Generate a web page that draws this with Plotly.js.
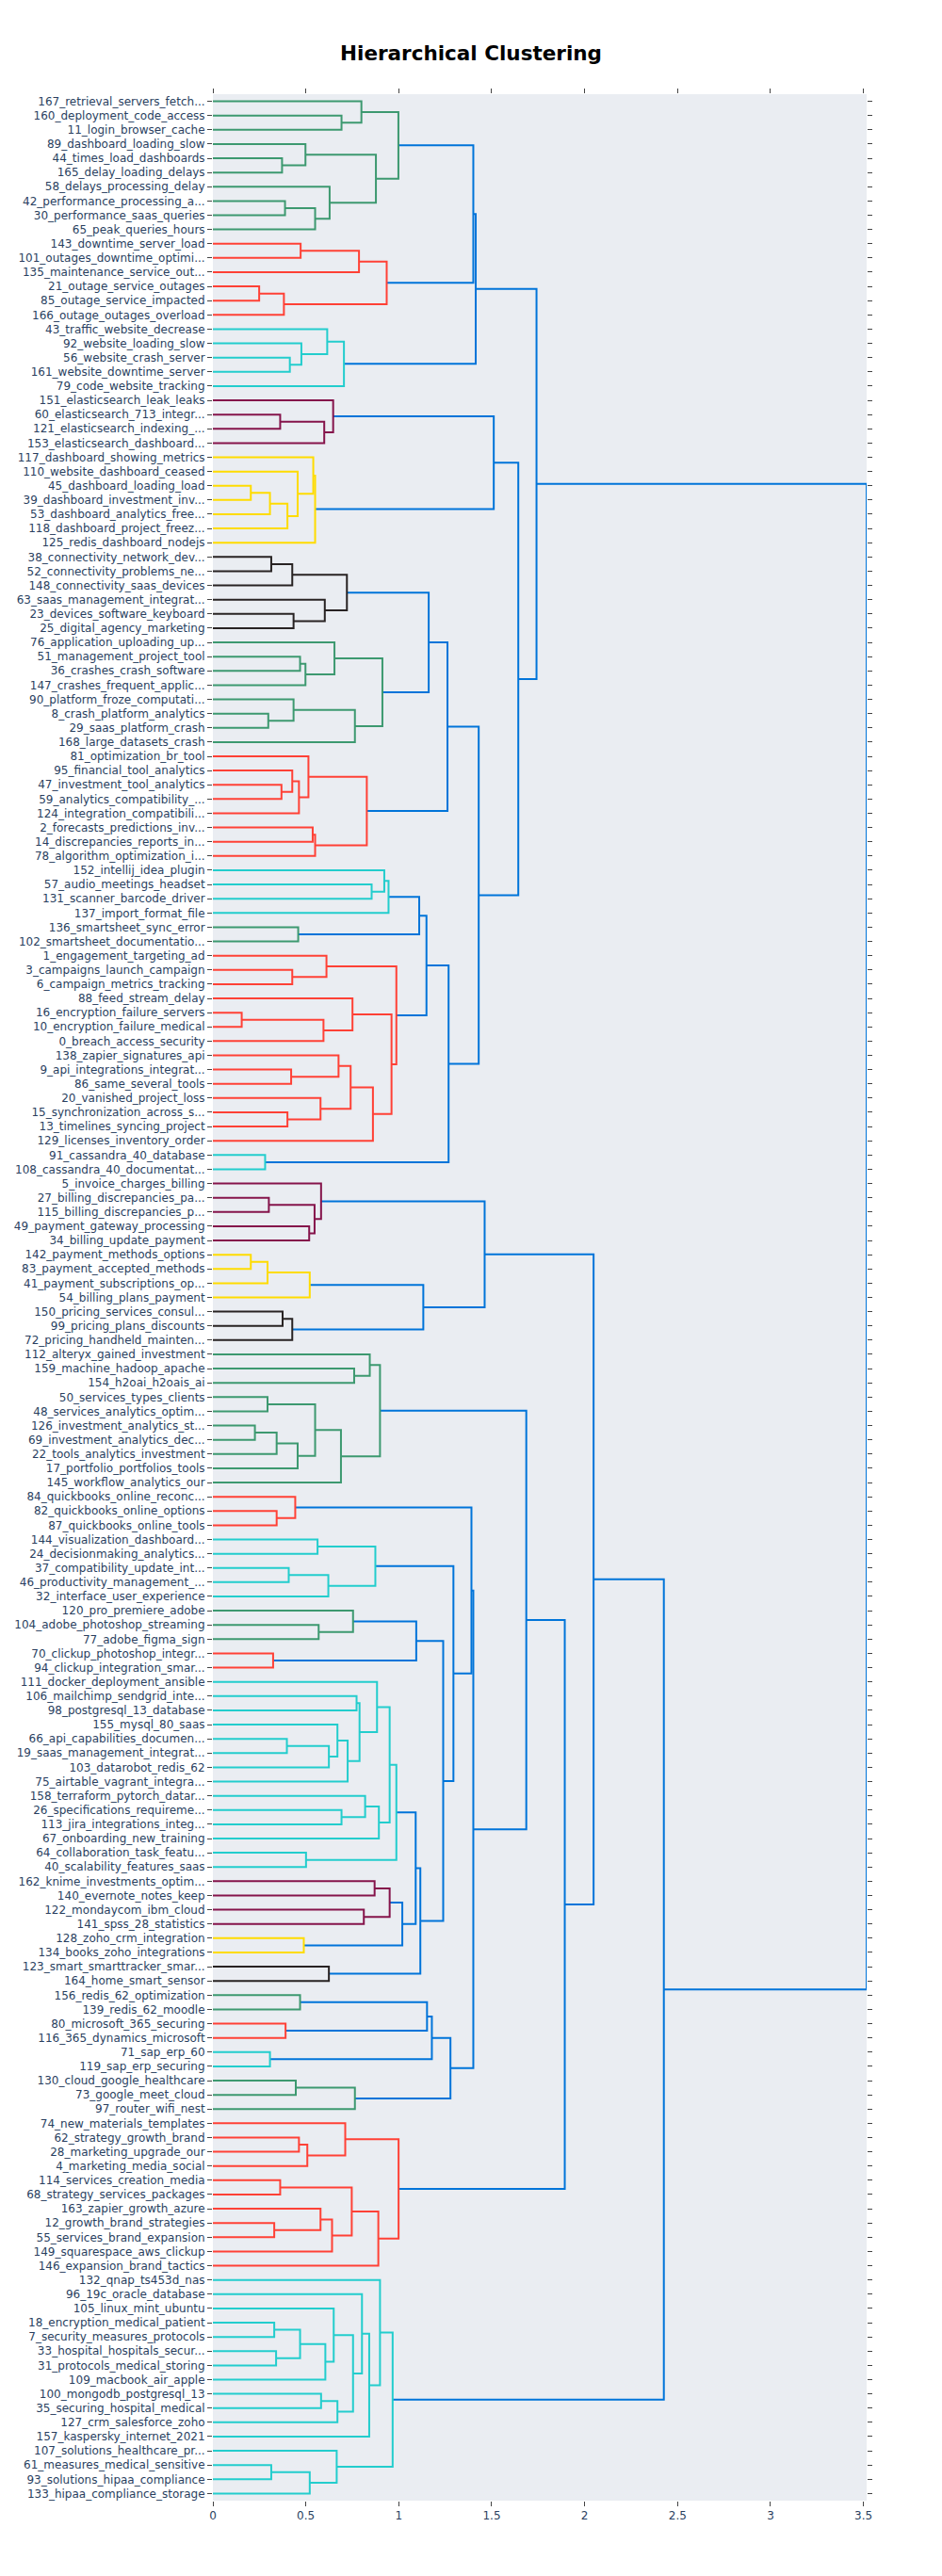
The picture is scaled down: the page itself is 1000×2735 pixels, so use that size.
<!DOCTYPE html>
<html>
<head>
<meta charset="utf-8">
<script src="https://cdn.plot.ly/plotly-3.0.1.min.js"></script>
<style>html,body{margin:0;padding:0;background:#fff}</style>
</head>
<body>
<div id="chart" style="width:1000px;height:2735px"></div>
<script>
// Leaf labels (top to bottom as displayed)
const leafLabels = [
"167_retrieval_servers_fetch...","160_deployment_code_access","11_login_browser_cache","89_dashboard_loading_slow",
"44_times_load_dashboards","165_delay_loading_delays","58_delays_processing_delay","42_performance_processing_a...",
"30_performance_saas_queries","65_peak_queries_hours","143_downtime_server_load","101_outages_downtime_optimi...",
"135_maintenance_service_out...","21_outage_service_outages","85_outage_service_impacted","166_outage_outages_overload",
"43_traffic_website_decrease","92_website_loading_slow","56_website_crash_server","161_website_downtime_server",
"79_code_website_tracking","151_elasticsearch_leak_leaks","60_elasticsearch_713_integr...","121_elasticsearch_indexing_...",
"153_elasticsearch_dashboard...","117_dashboard_showing_metrics","110_website_dashboard_ceased","45_dashboard_loading_load",
"39_dashboard_investment_inv...","53_dashboard_analytics_free...","118_dashboard_project_freez...","125_redis_dashboard_nodejs",
"38_connectivity_network_dev...","52_connectivity_problems_ne...","148_connectivity_saas_devices","63_saas_management_integrat...",
"23_devices_software_keyboard","25_digital_agency_marketing","76_application_uploading_up...","51_management_project_tool",
"36_crashes_crash_software","147_crashes_frequent_applic...","90_platform_froze_computati...","8_crash_platform_analytics",
"29_saas_platform_crash","168_large_datasets_crash","81_optimization_br_tool","95_financial_tool_analytics",
"47_investment_tool_analytics","59_analytics_compatibility_...","124_integration_compatibili...","2_forecasts_predictions_inv...",
"14_discrepancies_reports_in...","78_algorithm_optimization_i...","152_intellij_idea_plugin","57_audio_meetings_headset",
"131_scanner_barcode_driver","137_import_format_file","136_smartsheet_sync_error","102_smartsheet_documentatio...",
"1_engagement_targeting_ad","3_campaigns_launch_campaign","6_campaign_metrics_tracking","88_feed_stream_delay",
"16_encryption_failure_servers","10_encryption_failure_medical","0_breach_access_security","138_zapier_signatures_api",
"9_api_integrations_integrat...","86_same_several_tools","20_vanished_project_loss","15_synchronization_across_s...",
"13_timelines_syncing_project","129_licenses_inventory_order","91_cassandra_40_database","108_cassandra_40_documentat...",
"5_invoice_charges_billing","27_billing_discrepancies_pa...","115_billing_discrepancies_p...","49_payment_gateway_processing",
"34_billing_update_payment","142_payment_methods_options","83_payment_accepted_methods","41_payment_subscriptions_op...",
"54_billing_plans_payment","150_pricing_services_consul...","99_pricing_plans_discounts","72_pricing_handheld_mainten...",
"112_alteryx_gained_investment","159_machine_hadoop_apache","154_h2oai_h2oais_ai","50_services_types_clients",
"48_services_analytics_optim...","126_investment_analytics_st...","69_investment_analytics_dec...","22_tools_analytics_investment",
"17_portfolio_portfolios_tools","145_workflow_analytics_our","84_quickbooks_online_reconc...","82_quickbooks_online_options",
"87_quickbooks_online_tools","144_visualization_dashboard...","24_decisionmaking_analytics...","37_compatibility_update_int...",
"46_productivity_management_...","32_interface_user_experience","120_pro_premiere_adobe","104_adobe_photoshop_streaming",
"77_adobe_figma_sign","70_clickup_photoshop_integr...","94_clickup_integration_smar...","111_docker_deployment_ansible",
"106_mailchimp_sendgrid_inte...","98_postgresql_13_database","155_mysql_80_saas","66_api_capabilities_documen...",
"19_saas_management_integrat...","103_datarobot_redis_62","75_airtable_vagrant_integra...","158_terraform_pytorch_datar...",
"26_specifications_requireme...","113_jira_integrations_integ...","67_onboarding_new_training","64_collaboration_task_featu...",
"40_scalability_features_saas","162_knime_investments_optim...","140_evernote_notes_keep","122_mondaycom_ibm_cloud",
"141_spss_28_statistics","128_zoho_crm_integration","134_books_zoho_integrations","123_smart_smarttracker_smar...",
"164_home_smart_sensor","156_redis_62_optimization","139_redis_62_moodle","80_microsoft_365_securing",
"116_365_dynamics_microsoft","71_sap_erp_60","119_sap_erp_securing","130_cloud_google_healthcare",
"73_google_meet_cloud","97_router_wifi_nest","74_new_materials_templates","62_strategy_growth_brand",
"28_marketing_upgrade_our","4_marketing_media_social","114_services_creation_media","68_strategy_services_packages",
"163_zapier_growth_azure","12_growth_brand_strategies","55_services_brand_expansion","149_squarespace_aws_clickup",
"146_expansion_brand_tactics","132_qnap_ts453d_nas","96_19c_oracle_database","105_linux_mint_ubuntu",
"18_encryption_medical_patient","7_security_measures_protocols","33_hospital_hospitals_secur...","31_protocols_medical_storing",
"109_macbook_air_apple","100_mongodb_postgresql_13","35_securing_hospital_medical","127_crm_salesforce_zoho",
"157_kaspersky_internet_2021","107_solutions_healthcare_pr...","61_measures_medical_sensitive","93_solutions_hipaa_compliance",
"133_hipaa_compliance_storage"
];

// Linkage: [node, upper child, lower child, merge distance]; numbers are leaf ids
const linkageTop = [
['a1',160,11,0.692],['a2',167,'a1',0.799],['a3',44,165,0.372],['a4',89,'a3',0.498],
['a5',42,30,0.388],['a6','a5',65,0.550],['a7',58,'a6',0.628],['a8','a4','a7',0.877],['a9','a2','a8',0.998],
['b1',143,101,0.472],['b2','b1',135,0.786],['b3',21,85,0.249],['b4','b3',166,0.382],['b5','b2','b4',0.935],
['p1','a9','b5',1.401],
['c1',56,161,0.414],['c2',92,'c1',0.476],['c3',43,'c2',0.615],['c4','c3',79,0.705],
['p2','p1','c4',1.414],
['d1',60,121,0.362],['d2','d1',153,0.599],['d3',151,'d2',0.647],
['e1',45,39,0.204],['e2','e1',53,0.307],['e3','e2',118,0.401],['e4',110,'e3',0.456],['e5',117,'e4',0.540],['e6','e5',125,0.550],
['p3','d3','e6',1.511],
['f1',38,52,0.314],['f2','f1',148,0.427],['f3',23,25,0.434],['f4',63,'f3',0.602],['f5','f2','f4',0.721],
['g1',51,36,0.469],['g2','g1',147,0.498],['g3',76,'g2',0.654],['g4',8,29,0.298],['g5',90,'g4',0.434],['g6','g5',168,0.764],['g7','g3','g6',0.912],
['p4','f5','g7',1.161],
['h1',47,59,0.369],['h2',95,'h1',0.427],['h3','h2',124,0.463],['h4',81,'h3',0.514],['h5',2,14,0.537],['h6','h5',78,0.550],['h7','h4','h6',0.828],
['p5','p4','h7',1.262],
['i1',57,131,0.854],['i2',152,'i1',0.922],['i3','i2',137,0.945],
['j1',136,102,0.459],
['p6','i3','j1',1.110],
['k1',3,6,0.427],['k2',1,'k1',0.611],['k3',16,10,0.155],['k4','k3',0,0.595],['k5',88,'k4',0.751],
['k6',9,86,0.421],['k7',138,'k6',0.676],['k8',15,13,0.401],['k9',20,'k8',0.579],['k10','k7','k9',0.741],
['k11','k10',129,0.861],['k12','k5','k11',0.961],['k13','k2','k12',0.987],
['p7','p6','k13',1.149],
['l1',91,108,0.281],
['p8','p7','l1',1.268],['p9','p5','p8',1.430],['p10','p3','p9',1.643],['p11','p2','p10',1.741]
];

const linkageBottom = [
['m1',27,115,0.301],['m2',49,34,0.518],['m3','m1','m2',0.547],['m4',5,'m3',0.582],
['n1',142,83,0.204],['n2','n1',41,0.294],['n3','n2',54,0.521],
['o1',150,99,0.375],['o2','o1',72,0.427],
['q1','n3','o2',1.132],['q2','m4','q1',1.462],
['r1',159,154,0.760],['r2',112,'r1',0.844],['r3',50,48,0.294],['r4',126,69,0.226],['r5','r4',22,0.343],
['r6','r5',17,0.456],['r7','r3','r6',0.550],['r8','r7',145,0.689],['r9','r2','r8',0.899],
['s1',82,87,0.343],['s2',84,'s1',0.443],
['t1',144,24,0.563],['t2',37,46,0.408],['t3','t2',32,0.621],['t4','t1','t3',0.874],
['u1',104,77,0.569],['u2',120,'u1',0.754],
['v1',70,94,0.324],
['q3','u2','v1',1.094],
['w1',106,98,0.773],['w2',66,19,0.398],['w3','w2',103,0.624],['w4',155,'w3',0.670],['w5','w4',75,0.725],
['w6','w1','w5',0.789],['w7',111,'w6',0.883],['w8',26,113,0.692],['w9',158,'w8',0.819],['w10','w9',67,0.893],
['w11','w7','w10',0.951],['w12',64,40,0.501],['w13','w11','w12',0.987],
['x1',162,140,0.870],['x2',122,141,0.812],['x3','x1','x2',0.951],
['y1',128,134,0.489],
['q4','x3','y1',1.019],['q5','w13','q4',1.091],
['z1',123,164,0.624],
['q6','q5','z1',1.116],['q7','q3','q6',1.239],['q8','t4','q7',1.294],['q9','s2','q8',1.391],
['aa1',156,139,0.469],['ab1',80,116,0.391],
['q10','aa1','ab1',1.152],
['ac1',71,119,0.307],
['q11','q10','ac1',1.178],
['ad1',130,73,0.446],['ad2','ad1',97,0.764],
['q12','q11','ad2',1.278],['q13','q9','q12',1.401],['q14','r9','q13',1.686],
['ae1',62,28,0.463],['ae2','ae1',4,0.508],['ae3',74,'ae2',0.712],['ae4',114,68,0.362],['ae5',12,55,0.330],
['ae6',163,'ae5',0.579],['ae7','ae6',149,0.641],['ae8','ae4','ae7',0.747],['ae9','ae8',146,0.890],['ae10','ae3','ae9',0.999],
['q15','q14','ae10',1.893],['q16','q2','q15',2.048],
['af1',18,7,0.330],['af2',33,31,0.340],['af3','af1','af2',0.469],['af4','af3',109,0.605],['af5',105,'af4',0.650],
['af6',100,35,0.582],['af7','af6',127,0.670],['af8','af5','af7',0.754],['af9',96,'af8',0.802],['af10','af9',157,0.841],
['af11',132,'af10',0.899],['af12',61,93,0.314],['af13','af12',133,0.521],['af14',107,'af13',0.666],['af15','af11','af14',0.967],
['q17','q16','af15',2.426]
];

const linkageRoot = [['root','p11','q17',3.517]];

const colorThreshold = 1.01;
const aboveThresholdColor = 'rgb(0,116,217)';
const clusterPalette = ['rgb(61,153,112)','rgb(255,65,54)','rgb(35,205,205)','rgb(133,20,75)',
  'rgb(255,220,0)','rgb(40,35,35)','rgb(61,153,112)','rgb(255,65,54)','rgb(35,205,205)'];

// ---- build tree ----
const nodes = {};
linkageTop.concat(linkageBottom, linkageRoot).forEach(r => { nodes[r[0]] = {a:r[1], b:r[2], h:r[3]}; });
const labelById = {};
leafLabels.forEach(l => { labelById[parseInt(l, 10)] = l; });

let leafCount = 0;
const tickvals = [], ticktext = [];
function place(c) {
  if (typeof c === 'number') {
    const y = -(10 * leafCount + 5);
    leafCount++;
    tickvals.push(y); ticktext.push(labelById[c]);
    return {y: y, h: 0};
  }
  const n = nodes[c];
  const A = place(n.a), B = place(n.b);
  n.ya = A.y; n.ha = A.h; n.yb = B.y; n.hb = B.h;
  n.y = (A.y + B.y) / 2;
  return {y: n.y, h: n.h};
}
place('root');

let ci = 0;
const order = [];
function paint(name, color) {
  const n = nodes[name];
  if (!color && n.h < colorThreshold) color = clusterPalette[ci++ % clusterPalette.length];
  n.color = color || aboveThresholdColor;
  order.push(name);
  [n.a, n.b].forEach(c => { if (typeof c === 'string') paint(c, color); });
}
paint('root', null);

// group links by colour
const groups = {};
const groupOrder = [];
order.forEach(name => {
  const n = nodes[name];
  if (!groups[n.color]) { groups[n.color] = {x: [], y: []}; groupOrder.push(n.color); }
  const g = groups[n.color];
  g.x.push(n.ha, n.h, n.h, n.hb, null);
  g.y.push(n.ya, n.ya, n.yb, n.yb, null);
});

const traces = groupOrder.map(col => ({
  type: 'scatter', mode: 'lines', x: groups[col].x, y: groups[col].y,
  line: {color: col, width: 2}, hoverinfo: 'none', showlegend: false
}));

const axisBase = {
  type: 'linear', ticks: 'outside', mirror: 'allticks', showticklabels: true,
  zeroline: false, showgrid: false, showline: true, linecolor: 'white', automargin: false,
  tickcolor: '#444', ticklen: 5
};

const layout = {
  width: 1000, height: 2735,
  title: {text: '<b>Hierarchical Clustering</b>', x: 0.5, xanchor: 'center',
          y: 0.9792, yref: 'container', yanchor: 'middle',
          font: {family: 'DejaVu Sans, Verdana, sans-serif', size: 21.5, color: 'black'}},
  paper_bgcolor: 'white', plot_bgcolor: 'rgb(234,237,242)',
  font: {family: 'DejaVu Sans, Verdana, sans-serif', size: 12, color: '#2a3f5f'},
  margin: {l: 226, r: 80, t: 100, b: 80},
  showlegend: false, hovermode: 'closest',
  xaxis: Object.assign({}, axisBase, {rangemode: 'tozero', autorange: true}),
  yaxis: Object.assign({}, axisBase, {tickmode: 'array', tickvals: tickvals, ticktext: ticktext, range: [-1690, 0]})
};

Plotly.newPlot('chart', traces, layout, {displayModeBar: false, responsive: false});
</script>
</body>
</html>
